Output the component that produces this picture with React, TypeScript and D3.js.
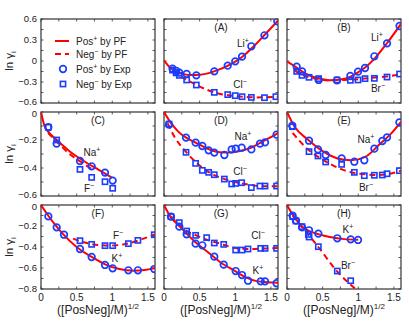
import React from "react";
import * as d3 from "d3";

// ---- data ----
const xTicks = [0, 0.5, 1, 1.5];
const rowDomains = [[-0.6, 0.6], [-0.6, 0], [-0.8, 0]];
const rowTicks = [[0.6, 0.3, 0, -0.3, -0.6], [0, -0.2, -0.4, -0.6], [0, -0.2, -0.4, -0.6, -0.8]];
const rowMinor = [0.15, 0.1, 0.1];

// panel A: LiCl
const aPosExp = [[0.12, -0.11], [0.17, -0.14], [0.215, -0.167], [0.318, -0.186], [0.454, -0.205], [0.706, -0.148], [0.894, -0.067], [1.0, -0.005], [1.095, 0.062], [1.226, 0.21], [1.41, 0.367], [1.59, 0.567]];
const aNegExp = [[0.12, -0.13], [0.17, -0.17], [0.215, -0.205], [0.318, -0.271], [0.454, -0.343], [0.706, -0.448], [0.894, -0.48], [1.0, -0.495], [1.095, -0.51], [1.226, -0.52], [1.41, -0.524], [1.57, -0.51]];
const aPosFit = [[0, 0.01], [0.08, -0.09], [0.15, -0.14], [0.25, -0.18], [0.35, -0.2], [0.45, -0.2], [0.6, -0.18], [0.75, -0.13], [0.9, -0.065], [1.0, -0.01], [1.1, 0.06], [1.25, 0.2], [1.4, 0.36], [1.6, 0.58]];
const aNegFit = [[0.12, -0.14], [0.2, -0.2], [0.3, -0.26], [0.45, -0.34], [0.6, -0.41], [0.75, -0.46], [0.9, -0.49], [1.1, -0.51], [1.3, -0.52], [1.6, -0.51]];

// panel B: LiBr
const bPosExp = [[0.136, -0.081], [0.211, -0.148], [0.444, -0.271], [0.702, -0.276], [0.889, -0.214], [0.997, -0.152], [1.095, -0.1], [1.226, 0.067], [1.404, 0.252], [1.58, 0.5]];
const bNegExp = [[0.136, -0.148], [0.211, -0.205], [0.309, -0.233], [0.444, -0.252], [0.702, -0.271], [0.889, -0.276], [0.997, -0.271], [1.095, -0.252], [1.226, -0.248], [1.404, -0.229], [1.58, -0.186]];
const bPosFit = [[0, -0.01], [0.1, -0.07], [0.2, -0.14], [0.3, -0.2], [0.45, -0.25], [0.6, -0.275], [0.75, -0.265], [0.9, -0.22], [1.0, -0.16], [1.1, -0.09], [1.25, 0.06], [1.4, 0.25], [1.6, 0.53]];
const bNegFit = [[0.1, -0.13], [0.2, -0.19], [0.3, -0.23], [0.45, -0.26], [0.6, -0.275], [0.8, -0.27], [1.0, -0.26], [1.2, -0.24], [1.4, -0.22], [1.6, -0.19]];

// panel C: NaF
const cPosExp = [[0.103, -0.109], [0.22, -0.226], [0.547, -0.35], [0.711, -0.388], [0.898, -0.433], [1.006, -0.49]];
const cNegExp = [[0.103, -0.109], [0.22, -0.2], [0.547, -0.41], [0.711, -0.467], [0.898, -0.498], [1.006, -0.545]];
const cPosFit = [[0, 0], [0.05, -0.1], [0.1, -0.14], [0.2, -0.19], [0.4, -0.28], [0.6, -0.35], [0.8, -0.41], [1.0, -0.47]];
const cNegFit = [[0.1, -0.15], [0.2, -0.2], [0.4, -0.3], [0.6, -0.37], [0.75, -0.42]];

// panel D: NaCl
const dPosExp = [[0.07, -0.09], [0.309, -0.183], [0.444, -0.219], [0.538, -0.243], [0.627, -0.274], [0.706, -0.29], [0.847, -0.307], [0.95, -0.267], [1.006, -0.262], [1.09, -0.255], [1.226, -0.267], [1.347, -0.226], [1.418, -0.217], [1.58, -0.162]];
const dNegExp = [[0.07, -0.086], [0.309, -0.288], [0.444, -0.367], [0.538, -0.417], [0.627, -0.431], [0.706, -0.448], [0.847, -0.479], [0.95, -0.514], [1.006, -0.51], [1.09, -0.505], [1.226, -0.54], [1.347, -0.529], [1.418, -0.529], [1.58, -0.529]];
const dPosFit = [[0, 0], [0.1, -0.08], [0.2, -0.14], [0.3, -0.18], [0.45, -0.22], [0.6, -0.26], [0.75, -0.285], [0.9, -0.29], [1.05, -0.28], [1.2, -0.26], [1.35, -0.22], [1.5, -0.18], [1.6, -0.15]];
const dNegFit = [[0.05, -0.08], [0.15, -0.18], [0.3, -0.28], [0.45, -0.36], [0.6, -0.42], [0.8, -0.47], [1.0, -0.5], [1.2, -0.52], [1.4, -0.53], [1.6, -0.53]];

// panel E: NaBr
const ePosExp = [[0.075, -0.098], [0.309, -0.205], [0.435, -0.267], [0.543, -0.307], [0.767, -0.331], [0.945, -0.355], [1.085, -0.345], [1.226, -0.262], [1.338, -0.207], [1.404, -0.181], [1.577, -0.074]];
const eNegExp = [[0.075, -0.105], [0.309, -0.283], [0.435, -0.314], [0.543, -0.357], [0.767, -0.374], [0.945, -0.431], [1.085, -0.455], [1.226, -0.452], [1.338, -0.45], [1.404, -0.441], [1.577, -0.419]];
const ePosFit = [[0, 0], [0.1, -0.1], [0.3, -0.2], [0.5, -0.28], [0.7, -0.33], [0.9, -0.345], [1.1, -0.32], [1.3, -0.23], [1.45, -0.16], [1.6, -0.07]];
const eNegFit = [[0.08, -0.15], [0.3, -0.27], [0.5, -0.34], [0.77, -0.41], [1.0, -0.44], [1.3, -0.45], [1.6, -0.42]];

// panel F: KF
const fPosExp = [[0.103, -0.108], [0.22, -0.213], [0.323, -0.283], [0.547, -0.419], [0.711, -0.495], [0.898, -0.571], [1.006, -0.603], [1.226, -0.622], [1.36, -0.622], [1.59, -0.61]];
const fNegExp = [[0.547, -0.34], [0.711, -0.375], [0.898, -0.387], [1.006, -0.387], [1.226, -0.368], [1.36, -0.337], [1.59, -0.283]];
const fPosFit = [[0, 0], [0.1, -0.1], [0.2, -0.19], [0.3, -0.27], [0.5, -0.4], [0.7, -0.49], [0.9, -0.565], [1.1, -0.61], [1.3, -0.625], [1.45, -0.62], [1.6, -0.6]];
const fNegFit = [[0.45, -0.32], [0.6, -0.355], [0.8, -0.38], [1.0, -0.385], [1.2, -0.37], [1.4, -0.33], [1.6, -0.28]];

// panel G: KCl
const gPosExp = [[0.098, -0.111], [0.215, -0.206], [0.318, -0.279], [0.444, -0.368], [0.538, -0.384], [0.706, -0.492], [0.838, -0.568], [1.006, -0.629], [1.095, -0.667], [1.179, -0.721], [1.357, -0.727], [1.418, -0.727], [1.58, -0.745]];
const gNegExp = [[0.098, -0.111], [0.215, -0.168], [0.318, -0.248], [0.444, -0.289], [0.599, -0.311], [0.706, -0.362], [0.838, -0.375], [1.006, -0.429], [1.095, -0.429], [1.179, -0.419], [1.357, -0.413], [1.418, -0.413], [1.58, -0.413]];
const gPosFit = [[0, 0], [0.1, -0.12], [0.2, -0.19], [0.3, -0.26], [0.45, -0.36], [0.6, -0.44], [0.8, -0.55], [1.0, -0.63], [1.15, -0.69], [1.3, -0.725], [1.45, -0.735], [1.6, -0.74]];
const gNegFit = [[0.1, -0.11], [0.2, -0.18], [0.3, -0.24], [0.45, -0.29], [0.6, -0.33], [0.8, -0.37], [1.0, -0.41], [1.2, -0.42], [1.4, -0.415], [1.6, -0.41]];

// panel H: KBr
const hPosExp = [[0.079, -0.102], [0.126, -0.149], [0.211, -0.213], [0.309, -0.241], [0.44, -0.273], [0.706, -0.317], [0.894, -0.327], [0.997, -0.333]];
const hNegExp = [[0.079, -0.111], [0.126, -0.152], [0.211, -0.206], [0.3, -0.28], [0.31, -0.305], [0.44, -0.397], [0.706, -0.629], [0.894, -0.721]];
const hPosFit = [[0, 0], [0.05, -0.06], [0.1, -0.11], [0.2, -0.2], [0.3, -0.245], [0.45, -0.28], [0.6, -0.305], [0.8, -0.325], [1.0, -0.33]];
const hNegFit = [[0.08, -0.1], [0.2, -0.2], [0.44, -0.4], [0.7, -0.63], [0.98, -0.81]];

const panels = [
  { id: "A", row: 0, col: 1, pos: aPosExp, neg: aNegExp, posFit: aPosFit, negFit: aNegFit, ions: [["Li", "+", 79, 24], ["Cl", "\u2212", 76, 65]] },
  { id: "B", row: 0, col: 2, pos: bPosExp, neg: bNegExp, posFit: bPosFit, negFit: bNegFit, ions: [["Li", "+", 90, 18], ["Br", "\u2212", 91, 69]] },
  { id: "C", row: 1, col: 0, pos: cPosExp, neg: cNegExp, posFit: cPosFit, negFit: cNegFit, ions: [["Na", "+", 51, 40], ["F", "\u2212", 48, 76]] },
  { id: "D", row: 1, col: 1, pos: dPosExp, neg: dNegExp, posFit: dPosFit, negFit: dNegFit, ions: [["Na", "+", 79, 24], ["Cl", "\u2212", 76, 59]] },
  { id: "E", row: 1, col: 2, pos: ePosExp, neg: eNegExp, posFit: ePosFit, negFit: eNegFit, ions: [["Na", "+", 79, 27], ["Br", "\u2212", 79, 75]] },
  { id: "F", row: 2, col: 0, pos: fPosExp, neg: fNegExp, posFit: fPosFit, negFit: fNegFit, ions: [["F", "\u2212", 77, 30], ["K", "+", 76, 53]] },
  { id: "G", row: 2, col: 1, pos: gPosExp, neg: gNegExp, posFit: gPosFit, negFit: gNegFit, ions: [["Cl", "\u2212", 94, 30], ["K", "+", 94, 65]] },
  { id: "H", row: 2, col: 2, pos: hPosExp, neg: hNegExp, posFit: hPosFit, negFit: hNegFit, ions: [["K", "+", 61, 24], ["Br", "\u2212", 61, 60]] },
];

// ---- layout ----
const colLeft = [41, 164, 287];
const rowTop = [19, 112, 205];
const pw = 114, ph = 84;
const red = "#ff0000", blue = "#1a3cff", axisCol = "#333";
const font = "'Liberation Sans', Arial, sans-serif";
const fmt = (v: number) => (v < 0 ? "\u2212" + d3.format("")(-v) : d3.format("")(v));

function Frame({ row, col, yLabels, xLabels }: any) {
  const x = d3.scaleLinear().domain([0, 1.6]).range([0, pw]);
  const y = d3.scaleLinear().domain(rowDomains[row]).range([ph, 0]);
  const [y0, y1] = rowDomains[row];
  const yMinor = d3.range(y0, y1 + 1e-6, rowMinor[row]);
  const xMinor = d3.range(0, 1.6 + 1e-6, 0.25);
  const ticks = rowTicks[row];
  // nudge the end labels apart where rows butt against each other
  const nudge = (i: number) => (i === 0 && row > 0 ? 1.5 : i === ticks.length - 1 && row < 2 ? -1.5 : 0);
  return (
    <g transform={`translate(${colLeft[col]},${rowTop[row]})`}>
      {xMinor.map((v, i) => (
        <g key={"x" + i} stroke={axisCol} strokeWidth={0.8}>
          <line x1={x(v)} x2={x(v)} y1={ph} y2={ph - 2.5} />
          <line x1={x(v)} x2={x(v)} y1={0} y2={2.5} />
        </g>
      ))}
      {yMinor.map((v, i) => (
        <g key={"y" + i} stroke={axisCol} strokeWidth={0.8}>
          <line x1={0} x2={2.5} y1={y(v)} y2={y(v)} />
          <line x1={pw} x2={pw - 2.5} y1={y(v)} y2={y(v)} />
        </g>
      ))}
      <rect x={0} y={0} width={pw} height={ph} fill="none" stroke={axisCol} strokeWidth={1.2} />
      {yLabels && ticks.map((v, i) => (
        <text key={"yl" + v} x={-4} y={y(v) + nudge(i)} dy="0.33em" textAnchor="end" fontSize={9.5} fill="#222">{fmt(v)}</text>
      ))}
      {xLabels && xTicks.map((v) => (
        <text key={"xl" + v} x={x(v)} y={ph + 12} textAnchor="middle" fontSize={10} fill="#222">{fmt(v)}</text>
      ))}
    </g>
  );
}

function Panel({ p }: any) {
  const x = d3.scaleLinear().domain([0, 1.6]).range([0, pw]);
  const y = d3.scaleLinear().domain(rowDomains[p.row]).range([ph, 0]);
  const line = d3.line<number[]>().x((d) => x(d[0])).y((d) => y(d[1])).curve(d3.curveMonotoneX);
  const clipId = "clip" + p.id;
  return (
    <g transform={`translate(${colLeft[p.col]},${rowTop[p.row]})`}>
      <defs>
        <clipPath id={clipId}><rect x={0} y={0} width={pw} height={ph} /></clipPath>
      </defs>
      <g clipPath={`url(#${clipId})`}>
        <path d={line(p.posFit) || ""} fill="none" stroke={red} strokeWidth={2} />
        <path d={line(p.negFit) || ""} fill="none" stroke={red} strokeWidth={2} strokeDasharray="6,4" />
        {p.neg.map((d: number[], i: number) => (
          <rect key={"s" + i} x={x(d[0]) - 2.6} y={y(d[1]) - 2.6} width={5.2} height={5.2} fill="none" stroke={blue} strokeWidth={1.6} />
        ))}
        {p.pos.map((d: number[], i: number) => (
          <circle key={"c" + i} cx={x(d[0])} cy={y(d[1])} r={3.3} fill="none" stroke={blue} strokeWidth={1.7} />
        ))}
      </g>
      <text x={pw / 2} y={12} textAnchor="middle" fontSize={10} fill="#222">({p.id})</text>
      {p.ions.map((ion: any[], i: number) => (
        <text key={"i" + i} x={ion[2]} y={ion[3] + 4} textAnchor="middle" fontSize={10} fill="#222">
          {ion[0]}<tspan dy={-4} fontSize={7}>{ion[1]}</tspan>
        </text>
      ))}
    </g>
  );
}

function Legend() {
  const lx = 55, tx = 76;
  const rows = [41, 54, 69, 84];
  return (
    <g fontSize={10} fill="#222">
      <line x1={lx} x2={lx + 14} y1={rows[0]} y2={rows[0]} stroke={red} strokeWidth={2} />
      <line x1={lx} x2={lx + 14} y1={rows[1]} y2={rows[1]} stroke={red} strokeWidth={2} strokeDasharray="6,4" />
      <circle cx={lx + 8} cy={rows[2]} r={3.3} fill="none" stroke={blue} strokeWidth={1.7} />
      <rect x={lx + 5.4} y={rows[3] - 2.6} width={5.2} height={5.2} fill="none" stroke={blue} strokeWidth={1.6} />
      {[["Pos", "+", " by PF"], ["Neg", "\u2212", " by PF"], ["Pos", "+", " by Exp"], ["Neg", "\u2212", " by Exp"]].map((t, i) => (
        <text key={i} x={tx} y={rows[i] + 4}>
          {t[0]}<tspan dy={-4} fontSize={7}>{t[1]}</tspan><tspan dy={4}>{t[2]}</tspan>
        </text>
      ))}
    </g>
  );
}

export default function App() {
  return (
    <svg width={409} height={322} style={{ position: "absolute", left: 0, top: 0, background: "#fff" }} fontFamily={font}>
      <rect width={409} height={322} fill="#fff" />
      {[0, 1, 2].map((r) =>
        [0, 1, 2].map((c) => <Frame key={r + "-" + c} row={r} col={c} yLabels={c === 0} xLabels={r === 2} />)
      )}
      {panels.map((p) => <Panel key={p.id} p={p} />)}
      <Legend />
      {rowTop.map((t, i) => (
        <text key={"yl" + i} transform={`translate(13,${t + ph / 2}) rotate(-90)`} textAnchor="middle" fontSize={11.5} fill="#222">
          ln γ<tspan dy={3} fontSize={8}>i</tspan>
        </text>
      ))}
      {colLeft.map((l, i) => (
        <text key={"xl" + i} x={l + pw / 2} y={314} textAnchor="middle" fontSize={12} fill="#222">
          ([PosNeg]/M)<tspan dy={-5} fontSize={8}>1/2</tspan>
        </text>
      ))}
    </svg>
  );
}
